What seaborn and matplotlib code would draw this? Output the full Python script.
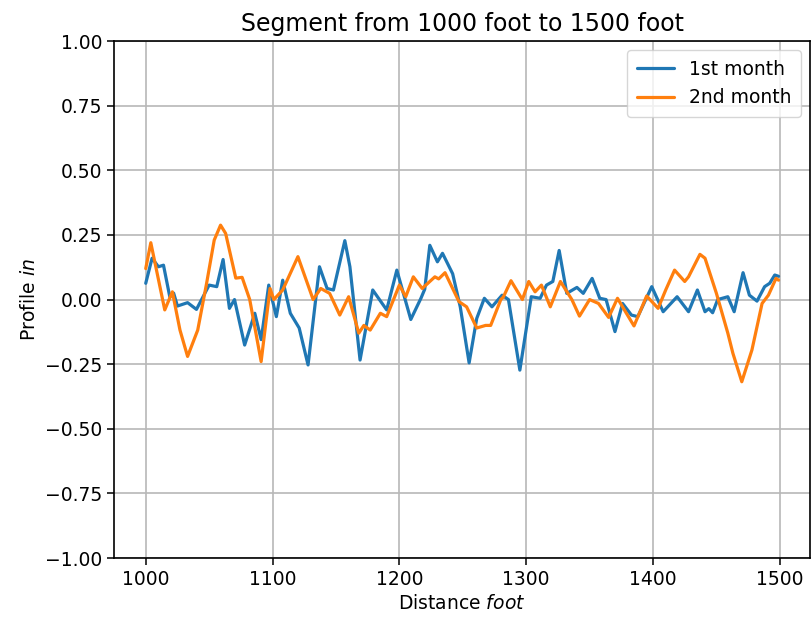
import matplotlib
matplotlib.use("Agg")
import matplotlib.pyplot as plt
import numpy as np
import pandas as pd
import seaborn as sns

# Profile readings along the segment (distance in feet, profile in inches)
dist_month1 = [1000, 1005, 1010, 1014, 1019, 1022, 1025, 1033, 1040, 1050, 1056, 1061,
               1066, 1070, 1078, 1086, 1091, 1097, 1103, 1108, 1114, 1121, 1128, 1137,
               1143, 1148, 1157, 1161, 1169, 1179, 1190, 1198, 1209, 1217, 1220, 1224,
               1230, 1234, 1242, 1248, 1255, 1261, 1267, 1273, 1281, 1286, 1295, 1304,
               1311, 1316, 1321, 1326, 1332, 1340, 1345, 1352, 1358, 1363, 1370, 1376,
               1383, 1388, 1399, 1408, 1419, 1428, 1435, 1441, 1444, 1447, 1451, 1459,
               1464, 1471, 1476, 1482, 1488, 1492, 1496, 1499]
profile_month1 = [0.063, 0.16, 0.127, 0.133, 0.01, 0.025, -0.025, -0.012, -0.038, 0.056, 0.05, 0.155,
                  -0.034, 0.0, -0.176, -0.053, -0.155, 0.056, -0.066, 0.075, -0.053, -0.11, -0.253, 0.127,
                  0.043, 0.037, 0.228, 0.127, -0.234, 0.037, -0.04, 0.114, -0.077, 0.005, 0.04, 0.21,
                  0.146, 0.179, 0.1, -0.028, -0.245, -0.073, 0.005, -0.028, 0.017, 0.0, -0.273, 0.011,
                  0.005, 0.056, 0.07, 0.19, 0.024, 0.047, 0.024, 0.082, 0.005, 0.0, -0.124, -0.015,
                  -0.06, -0.066, 0.05, -0.047, 0.011, -0.047, 0.037, -0.047, -0.035, -0.051, 0.0, 0.011,
                  -0.047, 0.104, 0.017, -0.006, 0.05, 0.063, 0.095, 0.09]

dist_month2 = [1000, 1004, 1015, 1021, 1027, 1033, 1041, 1048, 1054, 1059, 1063, 1071,
               1076, 1082, 1091, 1098, 1101, 1108, 1120, 1132, 1138, 1145, 1153, 1160,
               1168, 1172, 1177, 1185, 1190, 1200, 1205, 1211, 1218, 1228, 1231, 1236,
               1247, 1253, 1261, 1268, 1272, 1280, 1282, 1288, 1297, 1302, 1307, 1312,
               1319, 1327, 1336, 1342, 1350, 1357, 1365, 1372, 1379, 1385, 1395, 1404,
               1410, 1417, 1425, 1428, 1437, 1441, 1450, 1459, 1463, 1470, 1478, 1486,
               1491, 1497, 1499]
profile_month2 = [0.12, 0.22, -0.04, 0.03, -0.118, -0.22, -0.118, 0.063, 0.23, 0.288, 0.256, 0.083,
                  0.086, 0.0, -0.24, 0.043, 0.0, 0.037, 0.166, 0.0, 0.043, 0.024, -0.06, 0.011,
                  -0.13, -0.1, -0.118, -0.053, -0.066, 0.056, 0.011, 0.088, 0.043, 0.088, 0.08, 0.104,
                  -0.008, -0.028, -0.11, -0.1, -0.1, 0.0, 0.01, 0.073, 0.0, 0.07, 0.03, 0.056,
                  -0.028, 0.07, 0.0, -0.064, 0.0, -0.015, -0.069, 0.005, -0.053, -0.102, 0.014, -0.034,
                  0.037, 0.114, 0.07, 0.088, 0.175, 0.16, 0.024, -0.13, -0.208, -0.318, -0.195, -0.015,
                  0.017, 0.082, 0.075]

series_names = ["1st month", "2nd month"]
y_ticks = [-1.00, -0.75, -0.50, -0.25, 0.00, 0.25, 0.50, 0.75, 1.00]
x_ticks = [1000, 1100, 1200, 1300, 1400, 1500]

df = pd.concat([
    pd.DataFrame({"distance": dist_month1, "profile": profile_month1, "month": series_names[0]}),
    pd.DataFrame({"distance": dist_month2, "profile": profile_month2, "month": series_names[1]}),
], ignore_index=True)

fig = plt.figure(figsize=(8.11, 6.23), dpi=100)
ax = fig.add_axes([0.1406, 0.1043, 0.8585, 0.8297])

sns.lineplot(data=df, x="distance", y="profile", hue="month",
             palette=["#1f77b4", "#ff7f0e"], linewidth=2.3, ax=ax,
             estimator=None, sort=True,
             solid_joinstyle="round", solid_capstyle="round")

ax.set_ylim(-1.0, 1.0)
ax.set_xlim(975, 1524)
ax.set_yticks(y_ticks)
ax.set_xticks(x_ticks)
ax.set_yticklabels([f"{v:.2f}".replace("-", "\u2212") for v in y_ticks])
ax.grid(True, color="#b8b8b8", linewidth=1.2)
ax.set_axisbelow(True)
ax.tick_params(labelsize=13.5, length=5, width=1.1)
for s in ax.spines.values():
    s.set_linewidth(1.2)

ax.set_title("Segment from 1000 foot to 1500 foot", fontsize=17, pad=7)
ax.set_xlabel(r"Distance $\it{foot}$", fontsize=13.5)
ax.set_ylabel(r"Profile $\it{in}$", fontsize=13.5)

leg = ax.legend(title=None, loc="upper right", fontsize=13.5, frameon=True,
                borderpad=0.5, handlelength=2.0)
for line in leg.get_lines():
    line.set_linewidth(2.3)

fig.savefig("out.png", dpi=100)
